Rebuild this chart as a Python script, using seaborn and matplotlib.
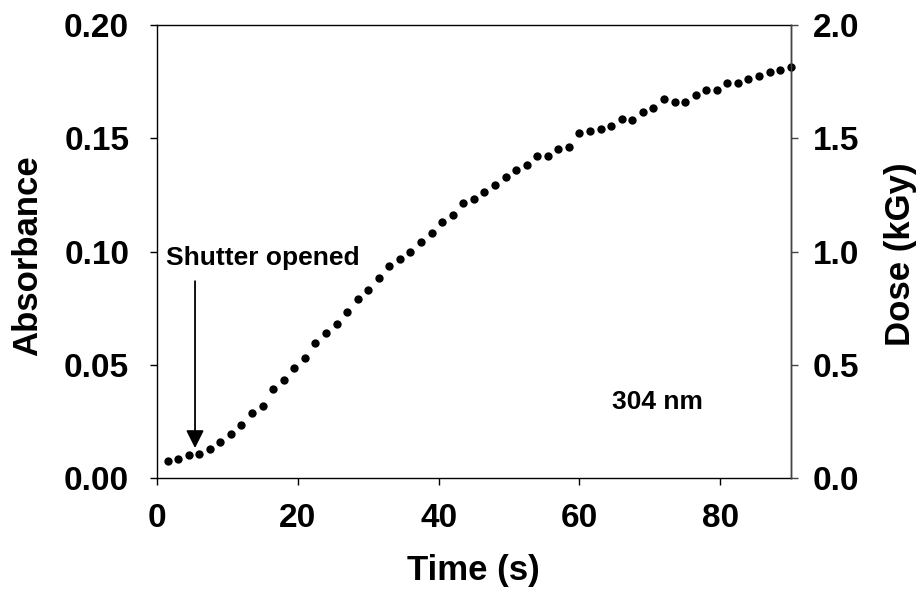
import matplotlib
matplotlib.use("Agg")
import matplotlib.pyplot as plt
import seaborn as sns
import pandas as pd

# ---- data ----
time_s = [1.5, 3.0, 4.5, 6.0, 7.5, 9.0, 10.5, 12.0, 13.5, 15.0,
          16.5, 18.0, 19.5, 21.0, 22.5, 24.0, 25.5, 27.0, 28.5, 30.0,
          31.5, 33.0, 34.5, 36.0, 37.5, 39.0, 40.5, 42.0, 43.5, 45.0,
          46.5, 48.0, 49.5, 51.0, 52.5, 54.0, 55.5, 57.0, 58.5, 60.0,
          61.5, 63.0, 64.5, 66.0, 67.5, 69.0, 70.5, 72.0, 73.5, 75.0,
          76.5, 78.0, 79.5, 81.0, 82.5, 84.0, 85.5, 87.0, 88.5, 90.0]
absorbance = [0.0075, 0.0083, 0.0100, 0.0107, 0.0128, 0.0158, 0.0194, 0.0232, 0.0286, 0.0319,
              0.0391, 0.0434, 0.0487, 0.0528, 0.0595, 0.0639, 0.0678, 0.0732, 0.0792, 0.0832,
              0.0883, 0.0936, 0.0969, 0.0999, 0.1043, 0.1082, 0.1132, 0.1161, 0.1212, 0.1231,
              0.1262, 0.1293, 0.1331, 0.1362, 0.1383, 0.1422, 0.1422, 0.1452, 0.1461, 0.1522,
              0.1533, 0.1543, 0.1553, 0.1583, 0.1581, 0.1614, 0.1633, 0.1673, 0.1662, 0.1662,
              0.1693, 0.1714, 0.1712, 0.1743, 0.1743, 0.1761, 0.1773, 0.1792, 0.1802, 0.1814]

x_ticks = [0, 20, 40, 60, 80]
y_ticks = [0.00, 0.05, 0.10, 0.15, 0.20]
y_tick_labels = ["0.00", "0.05", "0.10", "0.15", "0.20"]
dose_ticks = [0.0, 0.5, 1.0, 1.5, 2.0]
dose_tick_labels = ["0.0", "0.5", "1.0", "1.5", "2.0"]

shutter_time = 5.4
shutter_text = "Shutter opened"
wavelength_text = "304 nm"

# ---- style ----
sns.set_theme(style="white")
plt.rcParams["font.family"] = ["Liberation Sans", "DejaVu Sans"]
plt.rcParams["font.weight"] = "bold"
plt.rcParams["axes.labelweight"] = "bold"
plt.rcParams["text.color"] = "black"
plt.rcParams["axes.labelcolor"] = "black"
plt.rcParams["xtick.color"] = "black"
plt.rcParams["ytick.color"] = "black"

df = pd.DataFrame({"Time (s)": time_s, "Absorbance": absorbance})

fig = plt.figure(figsize=(9.24, 5.99), dpi=100)
ax = fig.add_axes([157 / 924, 1 - 478 / 599, 633.7 / 924, 453 / 599])

sns.scatterplot(data=df, x="Time (s)", y="Absorbance", ax=ax, color="black",
                s=36, linewidth=0, clip_on=False, legend=False, zorder=5)

ax.set_xlim(0, 90)
ax.set_ylim(0, 0.20)
ax.set_xticks(x_ticks)
ax.set_xticklabels([str(t) for t in x_ticks])
ax.set_yticks(y_ticks)
ax.set_yticklabels(y_tick_labels)

for side in ["left", "bottom", "top", "right"]:
    ax.spines[side].set_visible(True)
    ax.spines[side].set_color("black")
    ax.spines[side].set_linewidth(1.0)

ax.tick_params(axis="x", direction="out", length=5, width=1, color="black",
               labelcolor="black", labelsize=24, pad=13, bottom=True, top=False)
ax.tick_params(axis="y", direction="out", length=5, width=1, color="black",
               labelcolor="black", labelsize=24, pad=15, left=True, right=False)

ax.set_xlabel("Time (s)", fontsize=25, fontweight="bold", color="black")
ax.set_ylabel("Absorbance", fontsize=25, fontweight="bold", va="center", color="black")
ax.yaxis.set_label_coords(-0.2036, 0.49)
ax.xaxis.set_label_coords(0.5, -0.205)
ax.xaxis.label.set_va("center")

ax2 = ax.twinx()
ax2.set_ylim(0, 2.0)
ax2.set_yticks(dose_ticks)
ax2.set_yticklabels(dose_tick_labels)
for side in ["left", "bottom", "top"]:
    ax2.spines[side].set_visible(False)
ax2.spines["right"].set_visible(True)
ax2.spines["right"].set_color("#444444")
ax2.spines["right"].set_linewidth(1.0)
ax2.tick_params(axis="y", direction="out", length=5, width=1, color="#444444",
                labelcolor="black", labelsize=24, pad=11, right=True, left=False)
ax2.set_ylabel("Dose (kGy)", fontsize=25, fontweight="bold", va="center", color="black")
ax2.yaxis.set_label_coords(1.1725, 0.494)
ax2.grid(False)
ax.grid(False)

# annotations
ax.text(1.28, 0.0940, shutter_text, fontsize=19, fontweight="bold",
        ha="left", va="baseline", color="black")
ax.annotate("", xy=(shutter_time, 0.0132), xytext=(shutter_time, 0.0869),
            arrowprops=dict(arrowstyle="-|>,head_length=1.0,head_width=0.5",
                            mutation_scale=10.8, lw=1.3, color="black",
                            shrinkA=0, shrinkB=0))
ax.text(71.1, 0.0337, wavelength_text, fontsize=19, fontweight="bold",
        ha="center", va="center", color="black")

fig.savefig("out.png", dpi=100)
